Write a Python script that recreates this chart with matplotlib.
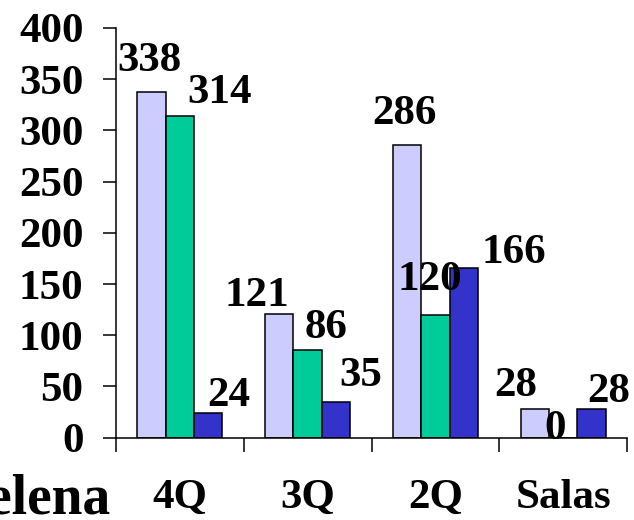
import matplotlib
matplotlib.use("Agg")
import matplotlib.pyplot as plt
import numpy as np

categories = ["4Q", "3Q", "2Q", "Salas"]
series_a = [338, 121, 286, 28]
series_b = [314, 86, 120, 0]
series_c = [24, 35, 166, 28]
y_ticks = [0, 50, 100, 150, 200, 250, 300, 350, 400]
side_text = "Helena"

# label offsets (pixels) relative to bar top-center: (dx, dy up)
offs_a = [(-2, 21), (-22, 8), (-3, 20.6), (-18.6, 13)]
offs_b = [(39.5, 13), (18, 11.5), (-5.5, 24.7), (-7.5, -1.3)]
offs_c = [(20.6, 7), (25, 16), (49.6, 4.5), (17, 7)]

colors = ["#CCCCFF", "#00CC99", "#3333CC"]
FONT = "Liberation Serif"
FS = 31

fig = plt.figure(figsize=(6.34, 5.2), dpi=100)
ax = fig.add_axes([116/634, 1-437.7/520, (627-116)/634, (437.7-28)/520])

x = np.arange(len(categories))
w = 1/4.5
px = 0.72  # pixels -> points
for k, (vals, offs) in enumerate(zip([series_a, series_b, series_c], [offs_a, offs_b, offs_c])):
    pos = x + (k-1)*w
    ax.bar(pos, vals, width=w, color=colors[k], edgecolor="black", linewidth=1.1)
    for xi, v, (dx, dy) in zip(pos, vals, offs):
        ax.annotate(str(v), (xi, v), xytext=(dx*px, dy*px), textcoords="offset points",
                    ha="center", va="baseline", fontsize=FS, fontweight="bold",
                    family=FONT)

ax.set_xlim(-0.5, len(categories)-0.5)
ax.set_ylim(0, 400)
ax.set_yticks(y_ticks)
ax.set_yticklabels([str(t) for t in y_ticks], fontsize=FS, fontweight="bold", family=FONT)
ax.tick_params(axis="y", direction="out", length=9.4, width=1.1, pad=14)

ax.set_xticks(x)
ax.set_xticklabels(categories, fontsize=FS, fontweight="bold", family=FONT)
ax.set_xticks(np.arange(-0.5, len(categories)), minor=True)
ax.tick_params(axis="x", which="major", length=0, pad=30)
ax.tick_params(axis="x", which="minor", direction="out", length=10, width=1.1)

for s in ["top", "right"]:
    ax.spines[s].set_visible(False)
for s in ["left", "bottom"]:
    ax.spines[s].set_linewidth(1.1)

fig.text(110/634, 1-513/520, side_text, ha="right", va="baseline",
         fontsize=40, fontweight="bold", family=FONT)

fig.savefig("out.png", dpi=100)
